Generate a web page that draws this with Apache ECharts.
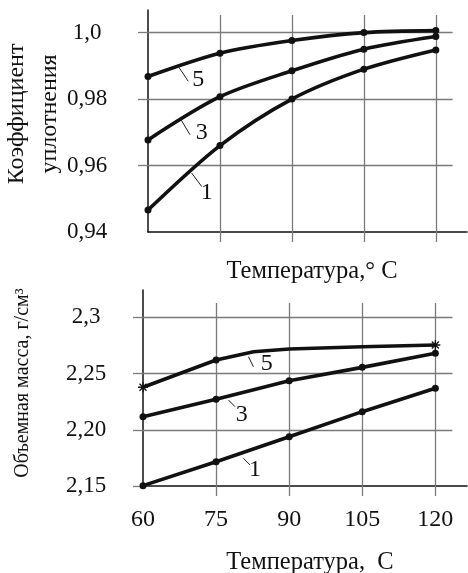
<!DOCTYPE html>
<html><head><meta charset="utf-8">
<script src="https://cdn.jsdelivr.net/npm/echarts@6/dist/echarts.min.js"></script>
<style>html,body{margin:0;padding:0;background:#fff}#c{width:468px;height:573px}</style>
</head><body><div id="c"></div>
<script>
// ---- data ----
const temperatures = [60, 75, 90, 105, 120];
const topSeries1 = [0.9466, 0.9660, 0.9800, 0.9890, 0.9948];
const topSeries3 = [0.9677, 0.9807, 0.9885, 0.9950, 0.9988];
const topSeries5 = [0.9868, 0.9938, 0.9976, 1.0000, 1.0006];
const bottomSeries1 = [2.1503, 2.1716, 2.1938, 2.2161, 2.2369];
const bottomSeries3 = [2.2116, 2.2271, 2.2436, 2.2555, 2.2680];
const bottomSeries5X = [60, 75, 82.7, 90, 105, 120];
const bottomSeries5 = [2.2378, 2.2620, 2.2694, 2.2718, 2.2739, 2.2754];
const xTickLabels = ['60', '75', '90', '105', '120'];
const topYTicks = [0.94, 0.96, 0.98, 1.0];
const topYTickLabels = ['0,94', '0,96', '0,98', '1,0'];
const bottomYTicks = [2.15, 2.20, 2.25, 2.30];
const bottomYTickLabels = ['2,15', '2,20', '2,25', '2,3'];
const curveNames = ['1', '3', '5'];
const topLabelAt = [[72.23, 0.95172], [71.19, 0.96979], [70.48, 0.98584]];
const topLeaders = [[[69.10, 0.95774], [71.19, 0.95370]], [[66.67, 0.97431], [68.75, 0.96928]], [[66.31, 0.98985], [68.40, 0.98533]]];
const bottomLabelAt = [[83.01, 2.1642], [80.28, 2.2131], [85.42, 2.2591]];
const bottomLeaders = [[[80.61, 2.1746], [81.98, 2.1687]], [[77.53, 2.2265], [78.90, 2.2205]], [[81.64, 2.2650], [82.66, 2.2561]]];
const bottomStarIdx = [0, 5];
const topTitleY = 'Коэффициент\nуплотнения';
const bottomTitleY = 'Объемная масса, г/см³';
const topTitleX = 'Температура,° С';
const bottomTitleX = 'Температура,  С';

// ---- view config ----
const FONT = '"Liberation Serif", "Times New Roman", serif';
const X_MAX = 126.5, X_GRID_END = 123.5;
const TOP_Y = [0.94, 1.0068], TOP_VTOP = 1.0053;
const BOT_Y = [2.15, 2.3243], BOT_VTOP = 2.3127;
const GRAY = '#7a7a7a';
const starPath = 'path://M5,0L5,10M0,5L10,5M1.5,1.5L8.5,8.5M8.5,1.5L1.5,8.5';

function pairs(xs, ys) { return xs.map((x, i) => [x, ys[i]]); }
function lookup(ticks, labels) {
  return v => { const i = ticks.findIndex(t => Math.abs(t - v) < 1e-6); return i >= 0 ? labels[i] : ''; };
}
function gridLines(yTicksH, vTop, yMin) {
  const out = [];
  yTicksH.forEach(y => out.push([{ coord: [temperatures[0], y] }, { coord: [X_GRID_END, y] }]));
  temperatures.slice(1).forEach(x => out.push([{ coord: [x, yMin] }, { coord: [x, vTop] }]));
  return out;
}
function leaderLines(list) {
  return list.map(l => [{ coord: l[0] }, { coord: l[1] }]);
}
function labelPoints(list) {
  return list.map((c, i) => ({ coord: c, value: curveNames[i] }));
}

const lineBase = {
  type: 'line', symbol: 'circle', symbolSize: 7, showSymbol: true,
  lineStyle: { color: '#111', width: 3.6 }, itemStyle: { color: '#111' },
  emphasis: { disabled: true }, animation: false
};

function curveSeries(ax, data, smooth, extra) {
  return Object.assign({}, lineBase, { xAxisIndex: ax, yAxisIndex: ax, data: data, smooth: smooth }, extra || {});
}

const bottom5Data = pairs(bottomSeries5X, bottomSeries5).map((p, i) => {
  if (bottomStarIdx.includes(i)) {
    return { value: p, symbol: starPath, symbolSize: 10, itemStyle: { color: 'none', borderColor: '#111', borderWidth: 1.3 } };
  }
  if (bottomSeries5X[i] === 82.7 || bottomSeries5X[i] === 90 || bottomSeries5X[i] === 105) return { value: p, symbolSize: 0 };
  return { value: p };
});

const markLineGrid = (lines) => ({
  silent: true, symbol: 'none', z: 1, animation: false,
  label: { show: false }, lineStyle: { color: GRAY, width: 1.3, type: 'solid' },
  emphasis: { disabled: true }, data: lines
});
const markLineLeader = (lines) => ({
  silent: true, symbol: 'none', animation: false,
  label: { show: false }, lineStyle: { color: '#222', width: 1, type: 'solid' },
  emphasis: { disabled: true }, data: lines
});
const markPointLabels = (pts) => ({
  silent: true, symbol: 'circle', symbolSize: 0, animation: false,
  label: { show: true, position: 'inside', formatter: p => p.value, color: '#111', fontFamily: FONT, fontSize: 24 },
  data: pts
});

const axisLineStyle = { show: true, lineStyle: { color: '#111', width: 1.5 } };

const option = {
  animation: false,
  backgroundColor: '#fff',
  grid: [
    { left: 148, right: 1, top: 10, height: 222 },
    { left: 143, right: 1, top: 290, height: 196 }
  ],
  xAxis: [
    { gridIndex: 0, type: 'value', min: temperatures[0], max: X_MAX,
      axisLine: axisLineStyle, splitLine: { show: false },
      axisTick: { show: true, inside: false, length: 10, customValues: temperatures.slice(1), lineStyle: { color: GRAY, width: 1.3 } },
      axisLabel: { show: false } },
    { gridIndex: 1, type: 'value', min: temperatures[0], max: X_MAX,
      axisLine: axisLineStyle, splitLine: { show: false },
      axisTick: { show: true, inside: false, length: 10, customValues: temperatures.slice(1), lineStyle: { color: GRAY, width: 1.3 } },
      axisLabel: { show: true, customValues: temperatures, margin: 22, color: '#111', fontFamily: FONT, fontSize: 24,
        formatter: lookup(temperatures, xTickLabels) } }
  ],
  yAxis: [
    { gridIndex: 0, type: 'value', min: TOP_Y[0], max: TOP_Y[1],
      axisLine: axisLineStyle, splitLine: { show: false },
      axisTick: { show: true, inside: false, length: 10, customValues: topYTicks.slice(1), lineStyle: { color: GRAY, width: 1.3 } },
      axisLabel: { show: true, customValues: topYTicks, margin: 61, align: 'center', color: '#111', fontFamily: FONT, fontSize: 23,
        formatter: lookup(topYTicks, topYTickLabels) } },
    { gridIndex: 1, type: 'value', min: BOT_Y[0], max: BOT_Y[1],
      axisLine: axisLineStyle, splitLine: { show: false },
      axisTick: { show: true, inside: false, length: 10, customValues: bottomYTicks, lineStyle: { color: GRAY, width: 1.3 } },
      axisLabel: { show: true, customValues: bottomYTicks, margin: 57, align: 'center', color: '#111', fontFamily: FONT, fontSize: 23,
        formatter: lookup(bottomYTicks, bottomYTickLabels) } }
  ],
  series: [
    curveSeries(0, pairs(temperatures, topSeries1), 0.3, { markLine: markLineGrid(gridLines(topYTicks.slice(1), TOP_VTOP, TOP_Y[0])) }),
    curveSeries(0, pairs(temperatures, topSeries3), 0.3, { markLine: markLineLeader(leaderLines(topLeaders)) }),
    curveSeries(0, pairs(temperatures, topSeries5), 0.3, { markPoint: markPointLabels(labelPoints(topLabelAt)) }),
    curveSeries(1, pairs(temperatures, bottomSeries1), false, { markLine: markLineGrid(gridLines(bottomYTicks.slice(1), BOT_VTOP, BOT_Y[0])) }),
    curveSeries(1, pairs(temperatures, bottomSeries3), false, { markLine: markLineLeader(leaderLines(bottomLeaders)) }),
    curveSeries(1, bottom5Data, false, { markPoint: markPointLabels(labelPoints(bottomLabelAt)) })
  ],
  graphic: [
    { type: 'text', x: 33, y: 114, rotation: Math.PI / 2, silent: true,
      style: { text: topTitleY, font: '24px ' + FONT, fill: '#111', align: 'center', verticalAlign: 'middle', lineHeight: 33 } },
    { type: 'text', x: 23, y: 383, rotation: Math.PI / 2, silent: true,
      style: { text: bottomTitleY, font: '20px ' + FONT, fill: '#111', align: 'center', verticalAlign: 'middle' } },
    { type: 'text', x: 312, y: 272, silent: true,
      style: { text: topTitleX, font: '24.5px ' + FONT, fill: '#111', align: 'center', verticalAlign: 'middle' } },
    { type: 'text', x: 310, y: 563, silent: true,
      style: { text: bottomTitleX, font: '24.5px ' + FONT, fill: '#111', align: 'center', verticalAlign: 'middle' } }
  ]
};

const chart = echarts.init(document.getElementById('c'), null, { renderer: 'canvas' });
chart.setOption(option);
</script>
</body></html>
